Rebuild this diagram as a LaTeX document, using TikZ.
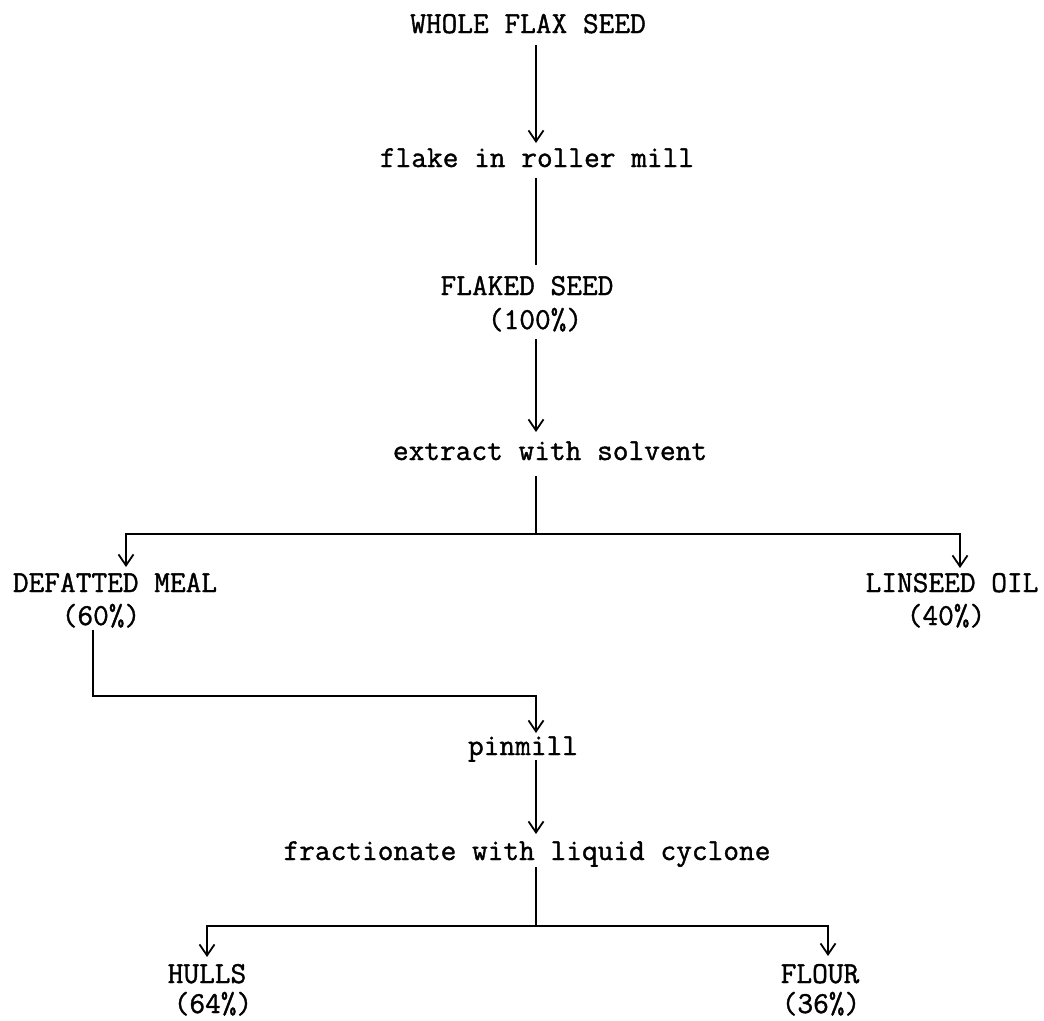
\documentclass[tikz,border=0pt]{standalone}
\usepackage{fontspec}
\newfontfamily\typewr{Latin Modern Mono}[FakeBold=1.2]
\usetikzlibrary{arrows.meta}
\begin{document}
\begin{tikzpicture}[x=1pt,y=-1pt,
  lbl/.style={font=\fontsize{30.5}{34}\selectfont\typewr, inner sep=0pt, anchor=base},
  ln/.style={line width=1.8pt},
  arr/.style={ln, -{Straight Barb[length=11pt,width=15pt,line width=1.8pt]}}]
\useasboundingbox (0,0) rectangle (1044,1020);
\fill[white] (0,0) rectangle (1044,1020);

% nodes
\node[lbl] (whole)   at (528,33)   {WHOLE FLAX SEED};
\node[lbl] (flake)   at (537,167)  {flake in roller mill};
\node[lbl] (flaked)  at (527,295)  {FLAKED SEED};
\node[lbl] (flakedp) at (535,329)  {(100\%)};
\node[lbl] (extract) at (550,460)  {extract with solvent};
\node[lbl] (meal)    at (115,592)  {DEFATTED MEAL};
\node[lbl] (mealp)   at (101,625)  {(60\%)};
\node[lbl] (oil)     at (952,592)  {LINSEED OIL};
\node[lbl] (oilp)    at (946,625)  {(40\%)};
\node[lbl] (pinmill) at (523,755)  {pinmill};
\node[lbl] (frac)    at (527,860)  {fractionate with liquid cyclone};
\node[lbl] (hulls)   at (207,983)  {HULLS};
\node[lbl] (hullsp)  at (213,1013) {(64\%)};
\node[lbl] (flour)   at (820,983)  {FLOUR};
\node[lbl] (flourp)  at (821,1013) {(36\%)};

\coordinate (spine) at (536,0);
\coordinate (j1) at (536,534);
\coordinate (j2) at (536,696);
\coordinate (j3) at (536,926);

% connectors
\draw[arr] ([yshift=-12pt]whole.base -| spine) -- ([yshift=24pt]flake.base -| spine);
\draw[ln]  ([yshift=-11pt]flake.base -| spine) -- ([yshift=30pt]flaked.base -| spine);
\draw[arr] ([yshift=-10pt]flakedp.base -| spine) -- ([yshift=28pt]extract.base -| spine);
\draw[ln]  ([yshift=-16pt]extract.base -| spine) -- (j1);
\draw[arr] (j1) -| ([xshift=11pt,yshift=25pt]meal.base);
\draw[arr] (j1) -| ([xshift=8pt,yshift=24pt]oil.base);
\draw[arr] ([xshift=-8pt,yshift=-5pt]mealp.base) |- (j2) -- ([yshift=22pt]pinmill.base -| spine);
\draw[arr] ([yshift=-5pt]pinmill.base -| spine) -- ([yshift=26pt]frac.base -| spine);
\draw[ln]  ([yshift=-7pt]frac.base -| spine) -- (j3);
\draw[arr] (j3) -| ([yshift=26pt]hulls.base);
\draw[arr] (j3) -| ([xshift=8pt,yshift=27pt]flour.base);
\end{tikzpicture}
\end{document}
